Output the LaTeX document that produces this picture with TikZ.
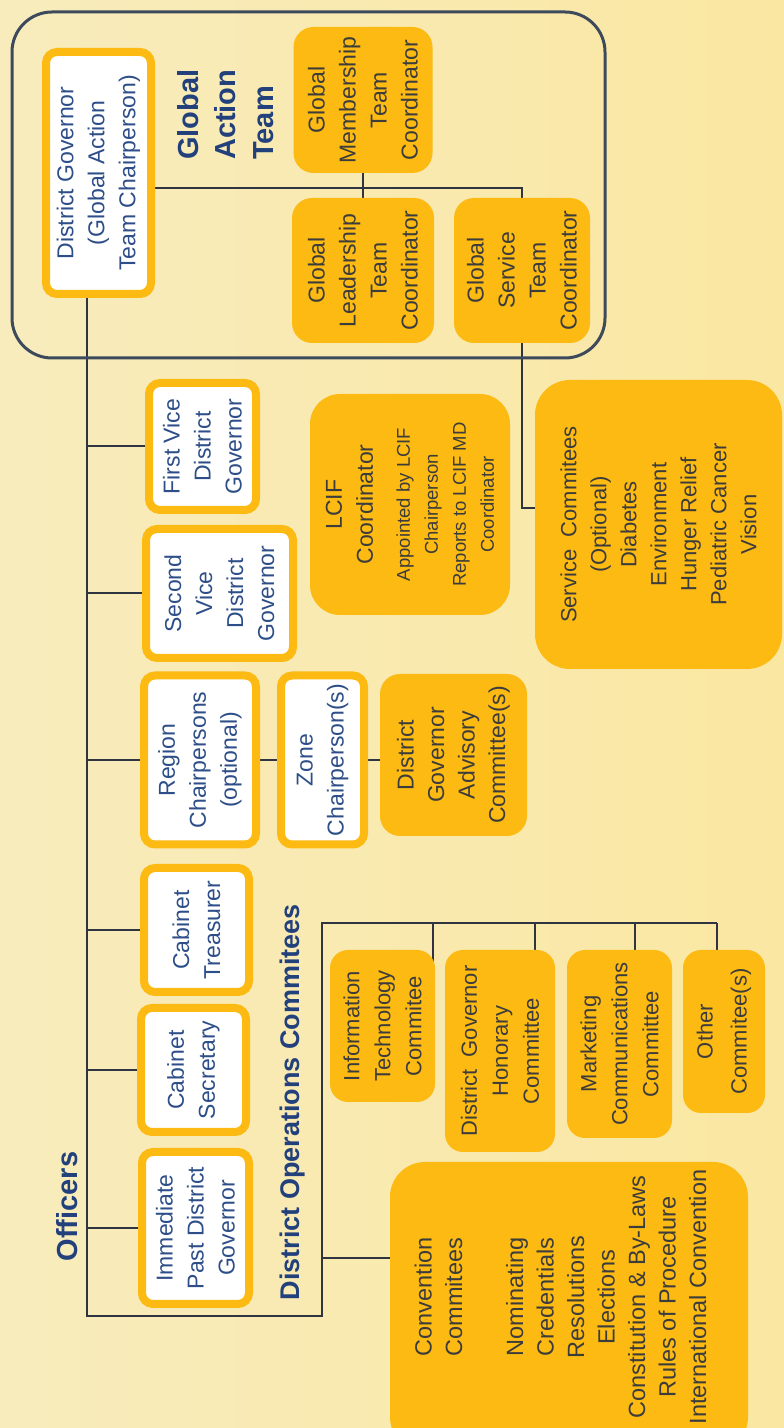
\documentclass[tikz,border=0pt]{standalone}
\usepackage{fontspec}
\setmainfont{Liberation Sans}
\definecolor{gold}{HTML}{FCBA12}
\definecolor{wtext}{HTML}{2D4E88}
\definecolor{htext}{HTML}{22407C}
\definecolor{gtext}{HTML}{3C3C3C}
\definecolor{framec}{HTML}{3D4A5C}
\definecolor{wirec}{HTML}{2E3540}
\definecolor{bgL}{HTML}{F8ECBD}
\definecolor{bgR}{HTML}{FAE7A2}
\pgfdeclarelayer{back}
\pgfdeclarelayer{wires}
\pgfsetlayers{back,wires,main}
\tikzset{
  wbox/.style={draw=gold, line width=8pt, fill=white, rounded corners=11pt, text=wtext, align=center, inner sep=0pt, font=\fontsize{23}{31}\selectfont},
  gbox/.style={fill=gold, rounded corners=20pt, text=gtext, align=center, inner sep=0pt, font=\fontsize{23}{31}\selectfont},
  wsz/.style 2 args={minimum width=#1pt-8pt, minimum height=#2pt-8pt},
  gsz/.style 2 args={minimum width=#1pt, minimum height=#2pt},
  head/.style={text=htext, inner sep=0pt, font=\fontsize{29}{37.5}\selectfont\bfseries},
  wire/.style={draw=wirec, line width=2pt},
}
\begin{document}
\begin{tikzpicture}[x=1pt,y=1pt]
\useasboundingbox (0,0) rectangle (784,1428);
\begin{pgfonlayer}{back}
\shade[left color=bgL, right color=bgR] (0,0) rectangle (784,1428);
\end{pgfonlayer}
\clip (0,0) rectangle (784,1428);
\begin{scope}[rotate=90, transform shape]
% Global Action Team frame
\draw[framec, line width=3pt, rounded corners=40pt] (1070,-12) rectangle (1416,-605);

% headings
\node[head] (off) at (221.5,-67.5) {Officers};
\node[head, align=left, anchor=west] (gat) at (1268,-225.5) {Global\\Action\\Team};
\node[head, font=\fontsize{27}{33}\selectfont\bfseries] (doc) at (326,-293) {District Operations Commitees};

% white boxes
\node[wbox, wsz={250}{113}] (dg) at (1255,-98.5) {District Governor\\(Global Action\\Team Chairperson)};
\node[wbox, wsz={135}{115}] (fvdg) at (981.5,-202.5) {First Vice\\District\\Governor};
\node[wbox, wsz={137}{155}] (svdg) at (834.5,-219.5) {Second\\Vice\\District\\Governor};
\node[wbox, wsz={177}{120}] (reg) at (668,-200) {Region\\Chairpersons\\(optional)};
\node[wbox, wsz={177}{91}] (zone) at (668,-322.5) {Zone\\Chairperson(s)};
\node[wbox, wsz={132}{113}] (treas) at (498,-196.5) {Cabinet\\Treasurer};
\node[wbox, wsz={132}{113}] (sec) at (358,-193.5) {Cabinet\\Secretary};
\node[wbox, wsz={160}{115}] (ipdg) at (200,-195.5) {Immediate\\Past District\\Governor};

% gold boxes
\node[gbox, gsz={146}{139}] (gmt) at (1328,-363) {Global\\Membership\\Team\\Coordinator};
\node[gbox, gsz={145}{142}] (glt) at (1157.5,-363) {Global\\Leadership\\Team\\Coordinator};
\node[gbox, gsz={145}{136}] (gst) at (1157.5,-522) {Global\\Service\\Team\\Coordinator};
\node[gbox, gsz={221}{200}, rounded corners=30pt, font=\fontsize{18.5}{28}\selectfont] (lcif) at (923.5,-410)
  {{\fontsize{23}{28}\selectfont LCIF}\\[3pt]{\fontsize{23}{28}\selectfont Coordinator}\\[9pt]Appointed by LCIF\\Chairperson\\Reports to LCIF MD\\Coordinator};
\node[gbox, gsz={289}{247}, rounded corners=35pt, font=\fontsize{22}{30}\selectfont] (svc) at (903.5,-658.5)
  {Service\ \ Commitees\\(Optional)\\Diabetes\\Environment\\Hunger Relief\\Pediatric Cancer\\Vision};
\node[gbox, gsz={162}{147}, font=\fontsize{23}{30.5}\selectfont] (dga) at (673,-453.5) {District\\Governor\\Advisory\\Committee(s)};
\node[gbox, gsz={152}{105}, rounded corners=18pt, font=\fontsize{22}{31}\selectfont] (it) at (402,-382.5) {Information\\Technology\\Commitee};
\node[gbox, gsz={202}{110}, rounded corners=18pt, font=\fontsize{22}{31}\selectfont] (dgh) at (377,-500) {District\ \ Governor\\Honorary\\Committee};
\node[gbox, gsz={188}{105}, rounded corners=18pt, font=\fontsize{22}{31}\selectfont] (mc) at (384,-619.5) {Marketing\\Communications\\Committee};
\node[gbox, gsz={163}{82}, rounded corners=18pt, font=\fontsize{22}{34}\selectfont] (oth) at (396.5,-724) {Other\\Commitee(s)};
\node[gbox, gsz={290}{358}, rounded corners=35pt] (conv) at (121,-569) {};
\node[text=gtext, align=center, inner sep=0pt, font=\fontsize{23.5}{30.5}\selectfont] (convtxt) at (131,-560.5)
  {Convention\\Commitees\\[30.5pt]Nominating\\Credentials\\Resolutions\\Elections\\Constitution \& By-Laws\\Rules of Procedure\\International Convention};

% junction coordinates
\coordinate (dgport) at (1140,-87);
\coordinate (b1) at (112,-87);
\coordinate (b2) at (112,-322);
\coordinate (b3) at (505,-322);
\coordinate (b4) at (505,-717);
\coordinate (gatj) at (1240,-145);
\coordinate (svcin) at (920,-600);
\coordinate (convin) at (170,-420);
\coordinate (itin) at (460,-433);
\coordinate (dghin) at (460,-535);
\coordinate (mcin) at (460,-635);
\coordinate (othin) at (460,-717);

\begin{pgfonlayer}{wires}
\draw[wire] (dgport) -- (b1) -- (b2) -- (b3) -- (b4);
\draw[wire] (fvdg.north |- b1) -- (fvdg.north);
\draw[wire] (svdg.north |- b1) -- (svdg.north);
\draw[wire] (reg.north |- b1) -- (reg.north);
\draw[wire] (treas.north |- b1) -- (treas.north);
\draw[wire] (sec.north |- b1) -- (sec.north);
\draw[wire] (ipdg.north |- b1) -- (ipdg.north);
\draw[wire] (reg.south) -- (zone.north);
\draw[wire] (zone.south) -- (zone.south |- dga.north);
\draw[wire] (gatj) -- (gatj |- gst.east) -- (gst.east);
\draw[wire] (gmt.west) -- (glt.east);
\draw[wire] (gst.west) -- (svcin |- gst.west) -- (svcin);
\draw[wire] (convin |- b2) -- (convin);
\draw[wire] (b3 |- itin) -- (itin);
\draw[wire] (b3 |- dghin) -- (dghin);
\draw[wire] (b3 |- mcin) -- (mcin);
\draw[wire] (b3 |- othin) -- (othin);
\end{pgfonlayer}
\end{scope}
\end{tikzpicture}
\end{document}
